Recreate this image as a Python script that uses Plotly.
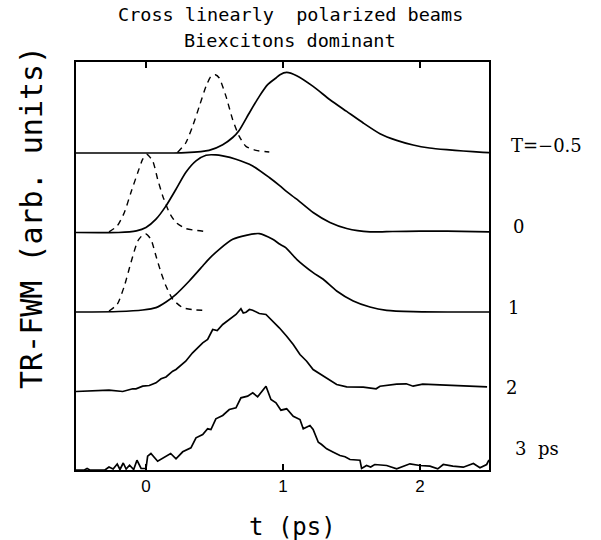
import plotly.graph_objects as go

# ---- data ----
delay_labels = ["T=\u22120.5", "0", "1", "2", "3  ps"]
offsets = [317.0, 237.5, 158.0, 78.5, 0.0]

t1 = [-0.511, 0.2, 0.29, 0.46, 0.56, 0.633, 0.68, 0.754, 0.827, 0.888, 0.949, 0.978, 1.027,
      1.1, 1.22, 1.343, 1.465, 1.586, 1.708, 1.83, 1.95, 2.07, 2.195, 2.316, 2.46, 2.504]
h1 = [0, 0, 0.3, 2.6, 8.3, 15.5, 22.5, 40, 56.6, 68.3, 75, 78.3, 80.6,
      77.3, 66.6, 53.3, 41.6, 30, 19.3, 12.6, 8, 5, 3.3, 2, 0.6, 0.3]
pt1 = [0.23, 0.29, 0.34, 0.389, 0.438, 0.474, 0.506, 0.535, 0.584, 0.633, 0.681, 0.73, 0.803, 0.9]
ph1 = [0.6, 10, 26.6, 46.6, 66.6, 76.6, 78.3, 75, 56.6, 33.3, 16.6, 6.6, 2.6, 1]

t2 = [-0.511, -0.2, -0.07, 0.0, 0.073, 0.146, 0.219, 0.29, 0.365, 0.438, 0.51, 0.56, 0.657,
      0.779, 0.9, 0.978, 1.02, 1.1, 1.22, 1.343, 1.465, 1.635, 1.8, 2.0, 2.2, 2.504]
h2 = [0, 0, 1.6, 5, 13.3, 26.6, 43.3, 60, 71.6, 77.3, 77.6, 76.6, 73.3,
      66.6, 55, 46.6, 41.6, 33.3, 20, 10, 4, 0.6, 1, 1.3, 1.3, 0.6]
pt2 = [-0.27, -0.21, -0.158, -0.11, -0.06, -0.024, 0.005, 0.049, 0.085, 0.122, 0.17, 0.219, 0.29, 0.438]
ph2 = [0.6, 6.6, 20, 40, 60, 73.3, 78.3, 71.6, 53.3, 36.6, 20, 10, 4, 1]

t3 = [-0.511, -0.2, -0.024, 0.073, 0.146, 0.219, 0.316, 0.414, 0.462, 0.535, 0.633, 0.73, 0.827,
      0.925, 0.978, 1.02, 1.1, 1.22, 1.294, 1.392, 1.513, 1.635, 1.757, 1.95, 2.2, 2.504]
h3 = [0, 0.5, 2, 4.4, 10, 17.7, 31, 46, 53.4, 62.7, 72.7, 76.7, 78.4,
      72.7, 67.7, 64.4, 52.7, 39.4, 32.7, 21, 11, 5, 1.7, 0.4, 0, 0]
pt3 = [-0.27, -0.21, -0.158, -0.11, -0.06, -0.024, 0.0, 0.036, 0.073, 0.11, 0.146, 0.195, 0.268, 0.365, 0.438]
ph3 = [1, 7.7, 26, 49.4, 71, 77, 78, 72.7, 56, 39.4, 26, 12.7, 4.4, 2, 1.7]

t4 = [-0.511, -0.39, -0.27, -0.17, -0.097, -0.073, -0.024, 0.024, 0.073, 0.11, 0.146, 0.195,
      0.219, 0.29, 0.34, 0.414, 0.45, 0.487, 0.52, 0.56, 0.608, 0.657, 0.693, 0.71, 0.73, 0.755,
      0.779, 0.81, 0.827, 0.876, 0.925, 0.973, 1.027, 1.075, 1.124, 1.173, 1.22, 1.294, 1.392,
      1.465, 1.586, 1.68, 1.708, 1.83, 1.9, 1.95, 2.02, 2.146, 2.27, 2.49]
h4 = [0, 0.3, 1.3, 0, 2.7, 2.7, 5.3, 6, 8.7, 12.7, 14.5, 20.3,
      22, 30.3, 38.7, 48.7, 52, 62, 61, 67, 72, 77, 82.7, 78.5, 79.3, 82,
      81.3, 79, 78, 77, 70.3, 63.7, 55.3, 47, 37, 30.3, 22, 15.3, 7,
      4.7, 4.3, 2.7, 5.3, 7.3, 7.7, 5.3, 7.3, 6.7, 6, 4.7]

t5 = [-0.511, -0.45, -0.43, -0.41, -0.3, -0.27, -0.24, -0.21, -0.19, -0.166, -0.145, -0.12,
      -0.09, -0.066, -0.036, 0.0, 0.012, 0.036, 0.085, 0.134, 0.18, 0.219, 0.268, 0.328, 0.365,
      0.414, 0.45, 0.474, 0.51, 0.56, 0.608, 0.657, 0.693, 0.742, 0.779, 0.815, 0.876, 0.912,
      0.949, 0.985, 1.027, 1.075, 1.124, 1.148, 1.197, 1.22, 1.258, 1.282, 1.319, 1.368, 1.416,
      1.453, 1.489, 1.562, 1.574, 1.61, 1.64, 1.67, 1.757, 1.83, 1.878, 1.927, 2.0, 2.073, 2.13,
      2.17, 2.24, 2.316, 2.39, 2.438, 2.487, 2.504]
h5 = [0, 0, 1.5, 0, 0, 3, 1, 6, 0.5, 7, 1, 4.8,
      0.5, 9.8, 1.5, 1.5, 13.8, 16.5, 8.8, 13.2, 16.5, 11.2, 18.2, 22.2, 32.2,
      35.5, 41.2, 40.5, 51.2, 54.5, 60.5, 62.2, 72.2, 73.8, 77.2, 73.2, 83.8, 70.5,
      67.2, 59.8, 61.2, 53.8, 50.5, 41.2, 44.5, 40.5, 27.8, 25.5, 21.2, 17.8, 14.5,
      13.2, 10.5, 9.8, 1.5, 4.5, 3, 5.5, 4.5, 1.2, 3.8, 6.2, 4.5, 3.8, 1.2,
      5.5, 3.8, 2.8, 6.5, 2.2, 5.5, 10]

x_ticks = [0, 1, 2]
x_tick_labels = ["0", "1", "2"]

solid_t = [t1, t2, t3, t4, t5]
solid_h = [h1, h2, h3, h4, h5]
pulse_t = [pt1, pt2, pt3]
pulse_h = [ph1, ph2, ph3]

# ---- figure ----
fig = go.Figure()
for i, (tt, hh) in enumerate(zip(solid_t, solid_h)):
    smooth = i < 3
    fig.add_trace(go.Scatter(
        x=tt, y=[v + offsets[i] for v in hh], mode="lines",
        line=dict(color="black", width=1.7, shape="spline" if smooth else "linear",
                  smoothing=0.6),
        showlegend=False, hoverinfo="skip"))
for i, (tt, hh) in enumerate(zip(pulse_t, pulse_h)):
    fig.add_trace(go.Scatter(
        x=tt, y=[v + offsets[i] for v in hh], mode="lines",
        line=dict(color="black", width=1.4, dash="6px,5px", shape="spline", smoothing=0.6),
        showlegend=False, hoverinfo="skip"))

L, R, T, B = 76, 112, 62, 70
W, H = 601, 540
pw, ph = W - L - R, H - T - B

def px_x(x):
    return (x - L) / pw

def px_y(y):
    return (H - B - y) / ph

ann = []
label_px = [(509, 145), (511, 226), (506, 307), (504, 387), (513, 448)]
for txt, (xx, yy) in zip(delay_labels, label_px):
    ann.append(dict(text=txt, x=px_x(xx), y=px_y(yy), xref="paper", yref="paper",
                    xanchor="left", yanchor="middle", showarrow=False,
                    font=dict(family="DejaVu Serif", size=18, color="black")))

ann.append(dict(text="Cross linearly  polarized beams", x=px_x(290), y=px_y(15),
                xref="paper", yref="paper", xanchor="center", yanchor="middle", showarrow=False,
                font=dict(family="DejaVu Sans Mono", size=18.5, color="black")))
ann.append(dict(text="Biexcitons dominant", x=px_x(290), y=px_y(41),
                xref="paper", yref="paper", xanchor="center", yanchor="middle", showarrow=False,
                font=dict(family="DejaVu Sans Mono", size=18.5, color="black")))
ann.append(dict(text="t (ps)", x=px_x(292), y=px_y(527),
                xref="paper", yref="paper", xanchor="center", yanchor="middle", showarrow=False,
                font=dict(family="DejaVu Sans Mono", size=24, color="black")))
ann.append(dict(text="TR-FWM (arb. units)", x=px_x(31), y=px_y(218), textangle=-90,
                xref="paper", yref="paper", xanchor="center", yanchor="middle", showarrow=False,
                font=dict(family="DejaVu Sans Mono", size=30, color="black")))

fig.update_layout(
    width=W, height=H, margin=dict(l=L, r=R, t=T, b=B),
    paper_bgcolor="white", plot_bgcolor="white",
    annotations=ann,
    xaxis=dict(range=[-0.511, 2.504], tickvals=x_ticks, ticktext=x_tick_labels,
               ticks="inside", ticklen=6, tickwidth=1.5, tickcolor="black",
               showline=True, linecolor="black", linewidth=1.5, mirror="ticks",
               showgrid=False, zeroline=False,
               tickfont=dict(family="Liberation Sans", size=17, color="black")),
    yaxis=dict(range=[0, 408], showticklabels=False, ticks="",
               showline=True, linecolor="black", linewidth=1.5, mirror=True,
               showgrid=False, zeroline=False),
)

fig.write_html("out.html")
